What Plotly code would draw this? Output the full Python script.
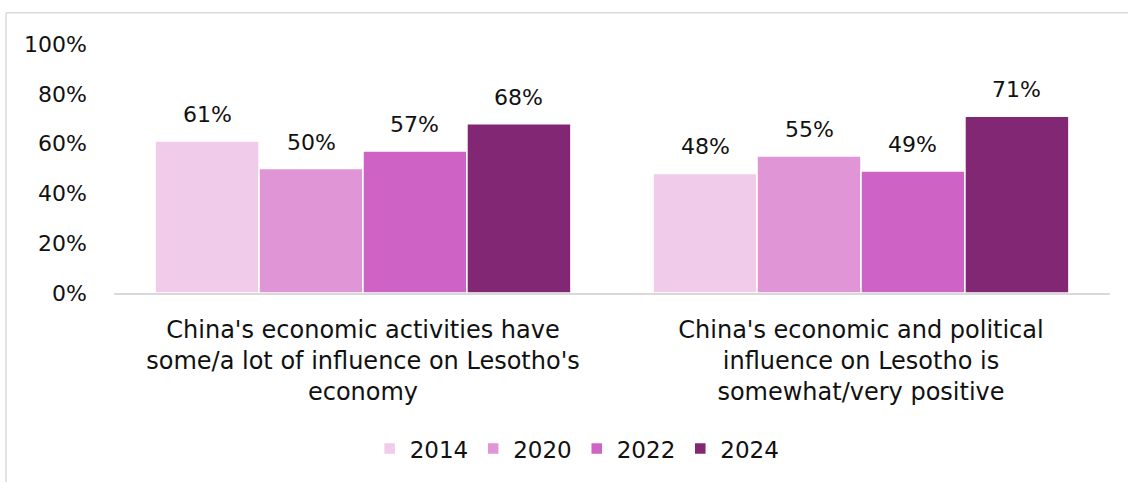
import plotly.graph_objects as go

categories = [
    "China's economic activities have<br>some/a lot of influence on Lesotho's<br>economy",
    "China's economic and political<br>influence on Lesotho is<br>somewhat/very positive",
]
years = ["2014", "2020", "2022", "2024"]
values = {
    "2014": [61, 48],
    "2020": [50, 55],
    "2022": [57, 49],
    "2024": [68, 71],
}
colors = {
    "2014": "#F0CBEA",
    "2020": "#E096D6",
    "2022": "#CF62C5",
    "2024": "#822774",
}
y_ticks = [0, 20, 40, 60, 80, 100]

FONT = "Century Gothic, DejaVu Sans, sans-serif"
BARGAP = 0.165

fig = go.Figure()
xs = list(range(len(categories)))
for yr in years:
    fig.add_trace(go.Bar(
        name=yr, x=xs, y=values[yr],
        marker=dict(color=colors[yr], line=dict(color="white", width=1.5)),
    ))

# value labels above each bar, placed from the group layout
n = len(years)
group_w = 1 - BARGAP
bar_w = group_w / n
for i, yr in enumerate(years):
    for c, v in zip(xs, values[yr]):
        fig.add_annotation(
            x=c - group_w / 2 + (i + 0.5) * bar_w, y=v,
            text=f"{v}%", showarrow=False, yanchor="bottom", yshift=12,
            font=dict(family=FONT, size=22, color="#111111"),
        )

fig.update_layout(
    width=1128, height=482,
    margin=dict(l=114, r=18, t=44, b=185),
    paper_bgcolor="white", plot_bgcolor="white",
    barmode="group", bargap=BARGAP, bargroupgap=0,
    font=dict(family=FONT, size=22, color="#111111"),
    showlegend=True,
    legend=dict(
        orientation="h", x=0.465, xanchor="center", y=-0.625, yanchor="middle",
        font=dict(family=FONT, size=23, color="#111111"),
        traceorder="normal",
    ),
    xaxis=dict(
        tickmode="array", tickvals=xs, ticktext=categories,
        range=[-0.5, 1.5], showline=True, linecolor="#D9D9D9", linewidth=2,
        ticks="", showgrid=False, zeroline=False, ticklabelstandoff=14,
        automargin=False,
        tickfont=dict(family=FONT, size=24, color="#111111"),
    ),
    yaxis=dict(
        range=[0, 100], tickvals=y_ticks, ticktext=[f"{t}%" for t in y_ticks],
        showgrid=False, zeroline=False, showline=False, ticks="",
        ticklabelstandoff=26, automargin=False,
        tickfont=dict(family=FONT, size=22, color="#111111"),
    ),
    shapes=[
        dict(type="line", xref="paper", yref="paper",
             x0=-0.1084, x1=1.05, y0=1.126, y1=1.126,
             line=dict(color="#D9D9D9", width=1.5)),
        dict(type="line", xref="paper", yref="paper",
             x0=-0.1084, x1=-0.1084, y0=1.126, y1=-0.8,
             line=dict(color="#D9D9D9", width=1.5)),
    ],
)

fig.write_html("out.html")
